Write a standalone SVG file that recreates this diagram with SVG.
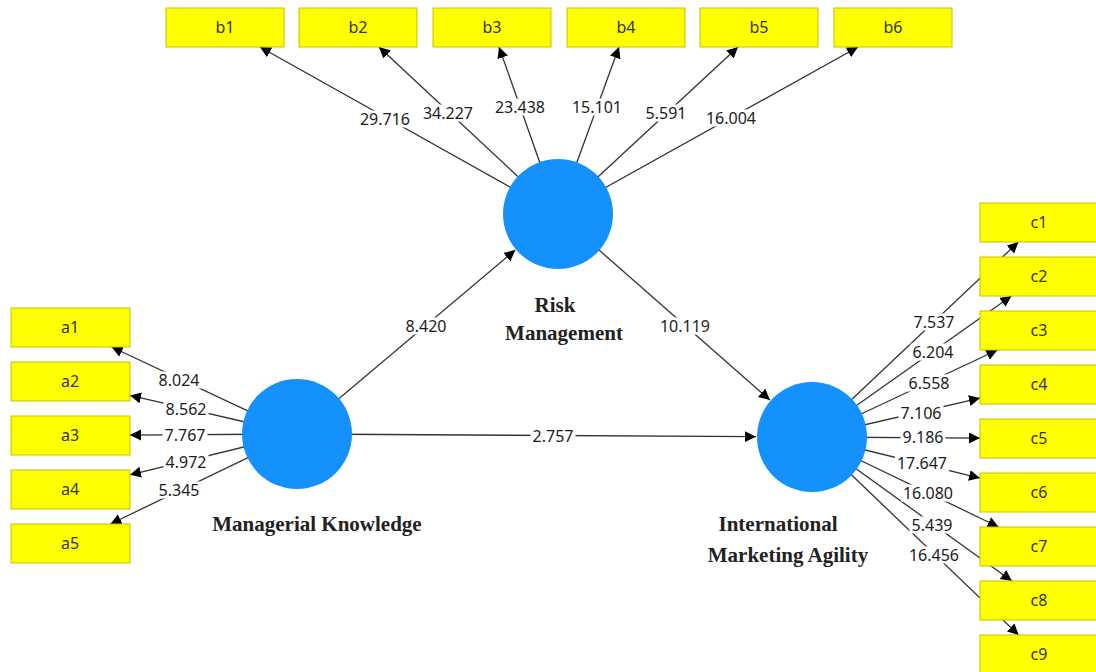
<svg xmlns="http://www.w3.org/2000/svg" width="1096" height="672" viewBox="0 0 1096 672">
<style>
.ln{stroke:#333;stroke-width:1.3;fill:none;marker-end:url(#ah)}
.bx{fill:#ffff00;stroke:#c4c400;stroke-width:1}
.bt{font-family:"Noto Sans","Open Sans",sans-serif;font-size:16px;fill:#333;text-anchor:middle}
.lv{font-family:"Noto Sans","Open Sans",sans-serif;font-size:16px;fill:#1c1c1c;text-anchor:middle}
.lb{fill:#fff}
.cc{fill:#1591fd}
.nm{font-family:"Liberation Serif","Times New Roman",serif;font-size:21px;font-weight:bold;fill:#222;text-anchor:middle}
</style>
<defs>
<marker id="ah" markerUnits="userSpaceOnUse" markerWidth="12" markerHeight="12" refX="11" refY="5.5" orient="auto">
<path d="M0,0 L11,5.5 L0,11 Z" fill="#000"/>
</marker>
</defs>
<rect width="1096" height="672" fill="#fff"/>
<g id="connectors">
<line class="ln" x1="558" y1="214" x2="260" y2="47"/>
<line class="ln" x1="558" y1="214" x2="379" y2="47"/>
<line class="ln" x1="558" y1="214" x2="499" y2="47"/>
<line class="ln" x1="558" y1="214" x2="619" y2="47"/>
<line class="ln" x1="558" y1="214" x2="738" y2="47"/>
<line class="ln" x1="558" y1="214" x2="858" y2="47"/>
<line class="ln" x1="297" y1="434" x2="111.6" y2="347"/>
<line class="ln" x1="297" y1="434" x2="130" y2="395.4"/>
<line class="ln" x1="297" y1="434" x2="130" y2="435.1"/>
<line class="ln" x1="297" y1="434" x2="130" y2="474.8"/>
<line class="ln" x1="297" y1="434" x2="110.4" y2="524"/>
<line class="ln" x1="812" y1="437" x2="1018.4" y2="242"/>
<line class="ln" x1="812" y1="437" x2="1011.4" y2="296"/>
<line class="ln" x1="812" y1="437" x2="997.4" y2="350"/>
<line class="ln" x1="812" y1="437" x2="980" y2="398.1"/>
<line class="ln" x1="812" y1="437" x2="980" y2="438.1"/>
<line class="ln" x1="812" y1="437" x2="980" y2="478.1"/>
<line class="ln" x1="812" y1="437" x2="998.6" y2="527"/>
<line class="ln" x1="812" y1="437" x2="1011.9" y2="581"/>
<line class="ln" x1="812" y1="437" x2="1018.6" y2="635"/>
<line class="ln" x1="297" y1="434" x2="515.2" y2="250.1"/>
<line class="ln" x1="558" y1="214" x2="769.9" y2="400"/>
<line class="ln" x1="297" y1="434" x2="756" y2="436.7"/>
<g id="labels">
<rect class="lb" x="358" y="110.5" width="54" height="17"/><text class="lv" x="385" y="124.5">29.716</text>
<rect class="lb" x="421" y="104.5" width="54" height="17"/><text class="lv" x="448" y="118.5">34.227</text>
<rect class="lb" x="493" y="98.5" width="54" height="17"/><text class="lv" x="520" y="112.5">23.438</text>
<rect class="lb" x="570" y="98.5" width="54" height="17"/><text class="lv" x="597" y="112.5">15.101</text>
<rect class="lb" x="643.5" y="104.5" width="45" height="17"/><text class="lv" x="666" y="118.5">5.591</text>
<rect class="lb" x="704" y="109.5" width="54" height="17"/><text class="lv" x="731" y="123.5">16.004</text>
<rect class="lb" x="156.5" y="371.5" width="45" height="17"/><text class="lv" x="179" y="385.5">8.024</text>
<rect class="lb" x="163.5" y="400.5" width="45" height="17"/><text class="lv" x="186" y="414.5">8.562</text>
<rect class="lb" x="162.5" y="426.5" width="45" height="17"/><text class="lv" x="185" y="440.5">7.767</text>
<rect class="lb" x="163.5" y="453.5" width="45" height="17"/><text class="lv" x="186" y="467.5">4.972</text>
<rect class="lb" x="156.5" y="481.5" width="45" height="17"/><text class="lv" x="179" y="495.5">5.345</text>
<rect class="lb" x="911.5" y="313.5" width="45" height="17"/><text class="lv" x="934" y="327.5">7.537</text>
<rect class="lb" x="910.5" y="343.5" width="45" height="17"/><text class="lv" x="933" y="357.5">6.204</text>
<rect class="lb" x="906.5" y="374.5" width="45" height="17"/><text class="lv" x="929" y="388.5">6.558</text>
<rect class="lb" x="898.5" y="404.5" width="45" height="17"/><text class="lv" x="921" y="418.5">7.106</text>
<rect class="lb" x="900.5" y="428.5" width="45" height="17"/><text class="lv" x="923" y="442.5">9.186</text>
<rect class="lb" x="895" y="454.5" width="54" height="17"/><text class="lv" x="922" y="468.5">17.647</text>
<rect class="lb" x="901" y="484.5" width="54" height="17"/><text class="lv" x="928" y="498.5">16.080</text>
<rect class="lb" x="909.5" y="516.5" width="45" height="17"/><text class="lv" x="932" y="530.5">5.439</text>
<rect class="lb" x="907" y="546.5" width="54" height="17"/><text class="lv" x="934" y="560.5">16.456</text>
<rect class="lb" x="403.5" y="317.5" width="45" height="17"/><text class="lv" x="426" y="331.5">8.420</text>
<rect class="lb" x="658" y="317.5" width="54" height="17"/><text class="lv" x="685" y="331.5">10.119</text>
<rect class="lb" x="530.5" y="427.5" width="45" height="17"/><text class="lv" x="553" y="441.5">2.757</text>
</g>
</g>
<g id="b1"><rect class="bx" x="166" y="8" width="118" height="39"/><text class="bt" x="225" y="33">b1</text></g>
<g id="b2"><rect class="bx" x="299" y="8" width="118" height="39"/><text class="bt" x="358" y="33">b2</text></g>
<g id="b3"><rect class="bx" x="433" y="8" width="118" height="39"/><text class="bt" x="492" y="33">b3</text></g>
<g id="b4"><rect class="bx" x="567" y="8" width="118" height="39"/><text class="bt" x="626" y="33">b4</text></g>
<g id="b5"><rect class="bx" x="700" y="8" width="118" height="39"/><text class="bt" x="759" y="33">b5</text></g>
<g id="b6"><rect class="bx" x="834" y="8" width="118" height="39"/><text class="bt" x="893" y="33">b6</text></g>
<g id="a1"><rect class="bx" x="11" y="308" width="119" height="39"/><text class="bt" x="70" y="333">a1</text></g>
<g id="a2"><rect class="bx" x="11" y="362" width="119" height="39"/><text class="bt" x="70" y="387">a2</text></g>
<g id="a3"><rect class="bx" x="11" y="416" width="119" height="39"/><text class="bt" x="70" y="441">a3</text></g>
<g id="a4"><rect class="bx" x="11" y="470" width="119" height="39"/><text class="bt" x="70" y="495">a4</text></g>
<g id="a5"><rect class="bx" x="11" y="524" width="119" height="39"/><text class="bt" x="70" y="549">a5</text></g>
<g id="c1"><rect class="bx" x="980" y="203" width="118" height="39"/><text class="bt" x="1039" y="228">c1</text></g>
<g id="c2"><rect class="bx" x="980" y="257" width="118" height="39"/><text class="bt" x="1039" y="282">c2</text></g>
<g id="c3"><rect class="bx" x="980" y="311" width="118" height="39"/><text class="bt" x="1039" y="336">c3</text></g>
<g id="c4"><rect class="bx" x="980" y="365" width="118" height="39"/><text class="bt" x="1039" y="390">c4</text></g>
<g id="c5"><rect class="bx" x="980" y="419" width="118" height="39"/><text class="bt" x="1039" y="444">c5</text></g>
<g id="c6"><rect class="bx" x="980" y="473" width="118" height="39"/><text class="bt" x="1039" y="498">c6</text></g>
<g id="c7"><rect class="bx" x="980" y="527" width="118" height="39"/><text class="bt" x="1039" y="552">c7</text></g>
<g id="c8"><rect class="bx" x="980" y="581" width="118" height="39"/><text class="bt" x="1039" y="606">c8</text></g>
<g id="c9"><rect class="bx" x="980" y="635" width="118" height="39"/><text class="bt" x="1039" y="660">c9</text></g>
<g id="risk-management"><circle class="cc" cx="558" cy="214" r="55"/><text class="nm" x="555" y="312">Risk</text><text class="nm" x="564" y="340">Management</text></g>
<g id="managerial-knowledge"><circle class="cc" cx="297" cy="434" r="55"/><text class="nm" x="317" y="531">Managerial Knowledge</text></g>
<g id="international-marketing-agility"><circle class="cc" cx="812" cy="437" r="55"/><text class="nm" x="778" y="531">International</text><text class="nm" x="788" y="562">Marketing Agility</text></g>
</svg>
